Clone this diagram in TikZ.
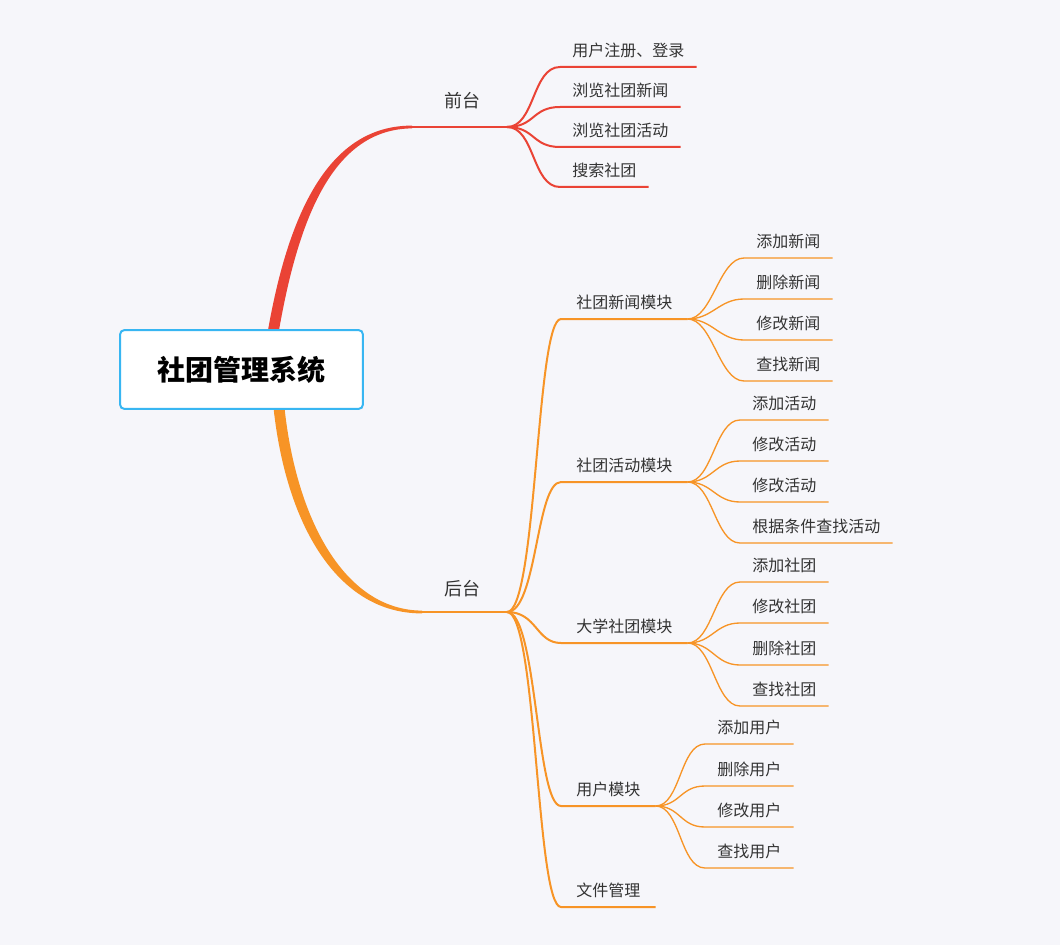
\documentclass[tikz,border=0pt]{standalone}
\usepackage{fontspec}
\setmainfont{Noto Sans CJK SC}
\usepackage{tikz}
\usetikzlibrary{positioning}

\definecolor{bg}{RGB}{246,246,250}
\definecolor{redline}{RGB}{234,67,53}
\definecolor{orangeline}{RGB}{247,148,38}
\definecolor{rootborder}{RGB}{56,182,242}
\definecolor{txt}{RGB}{51,51,51}

\begin{document}
\begin{tikzpicture}[
  x=0.75pt, y=-0.75pt,
  rootbox/.style={draw=rootborder, line width=1.5pt, rounded corners=3pt, fill=white,
    minimum width=182pt, minimum height=59pt, font=\fontsize{21}{24}\selectfont\bfseries, text=black},
  toplabel/.style={font=\fontsize{13.5}{16}\selectfont, text=txt, anchor=base},
  item/.style={font=\fontsize{12}{14}\selectfont, text=txt, anchor=south west, inner ysep=0pt, text depth=8pt},
  module/.style={item, inner xsep=11.25pt},
  leaf/.style={item, inner xsep=9pt},
  redlink/.style={draw=redline, line width=1.5pt},
  modlink/.style={draw=orangeline, line width=1.5pt},
  leaflink/.style={draw=orangeline, line width=1pt}
]
% background
\fill[bg] (0,0) rectangle (1060,945);
\useasboundingbox (0,0) rectangle (1060,945);

% main branches
\coordinate (frontsplit) at (507,127);
\coordinate (backsplit) at (507,612);
\fill[redline] (267,336) .. controls (288,212) and (329,125.5) .. (412,125.6)
  -- (412,128.4) .. controls (333,129) and (298,218) .. (278,336) -- cycle;
\draw[redline, line width=1.8pt] (410,127) -- (frontsplit);
\fill[orangeline] (273,403) .. controls (285,524) and (337,613.6) .. (422,613.4)
  -- (422,610.6) .. controls (343,610.2) and (295,516) .. (284,403) -- cycle;
\draw[orangeline, line width=1.8pt] (420,612) -- (backsplit);

\node[rootbox] (root) at (241.5,369.5) {社团管理系统};
\node[toplabel] (front) at (462,108) {前台};
\node[toplabel] (back) at (462,595) {后台};

% front side
\node[leaf] (login) at (560,67) {用户注册、登录};
\node[leaf] (newsview) at (560,107) {浏览社团新闻};
\node[leaf] (actview) at (560,147) {浏览社团活动};
\node[leaf] (search) at (560,187) {搜索社团};

% back side modules
\node[module] (newsmod) at (561,319) {社团新闻模块};
\node[module] (actmod) at (561,482) {社团活动模块};
\node[module] (clubmod) at (561,643) {大学社团模块};
\node[module] (usermod) at (561,806) {用户模块};
\node[module] (filemod) at (561,907) {文件管理};

\node[leaf] (addnews) at (744,258) {添加新闻};
\node[leaf] (delnews) at (744,299) {删除新闻};
\node[leaf] (editnews) at (744,340) {修改新闻};
\node[leaf] (findnews) at (744,381) {查找新闻};

\node[leaf] (addact) at (740,420) {添加活动};
\node[leaf] (editact) at (740,461) {修改活动};
\node[leaf] (editactb) at (740,502) {修改活动};
\node[leaf] (findact) at (740,543) {根据条件查找活动};

\node[leaf] (addclub) at (740,582) {添加社团};
\node[leaf] (editclub) at (740,623) {修改社团};
\node[leaf] (delclub) at (740,665) {删除社团};
\node[leaf] (findclub) at (740,706) {查找社团};

\node[leaf] (adduser) at (705,744) {添加用户};
\node[leaf] (deluser) at (705,786) {删除用户};
\node[leaf] (edituser) at (705,827) {修改用户};
\node[leaf] (finduser) at (705,868) {查找用户};

% connectors with underlines
\foreach \n in {login,newsview,actview,search}
  \draw[redlink] (frontsplit) .. controls +(28,0) and +(-28,0) .. (\n.south west) -- (\n.south east);
\foreach \n in {newsmod,actmod,clubmod,usermod,filemod}
  \draw[modlink] (backsplit) .. controls +(30,0) and +(-25,0) .. (\n.south west) -- (\n.south east);
\foreach \m/\kids in {newsmod/{addnews,delnews,editnews,findnews},
                      actmod/{addact,editact,editactb,findact},
                      clubmod/{addclub,editclub,delclub,findclub},
                      usermod/{adduser,deluser,edituser,finduser}}
  \foreach \n in \kids
    \draw[leaflink] (\m.south east) .. controls +(25,0) and +(-25,0) .. (\n.south west) -- (\n.south east);
\end{tikzpicture}
\end{document}
